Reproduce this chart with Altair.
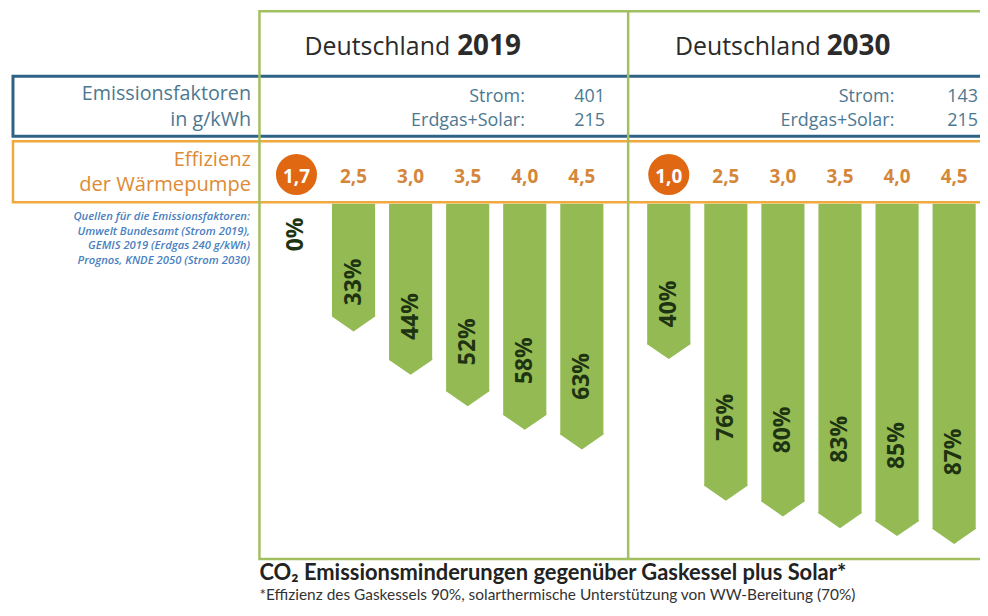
import altair as alt
import pandas as pd

# ---------------- data ----------------
years = ["2019", "2030"]
region = "Deutschland"
strom_label = "Strom:"
gas_label = "Erdgas+Solar:"
strom = [401, 143]
erdgas_solar = [215, 215]
eff_2019 = ["1,7", "2,5", "3,0", "3,5", "4,0", "4,5"]
red_2019 = [0, 33, 44, 52, 58, 63]
eff_2030 = ["1,0", "2,5", "3,0", "3,5", "4,0", "4,5"]
red_2030 = [40, 76, 80, 83, 85, 87]
left_emis = ["Emissionsfaktoren", "in g/kWh"]
left_eff = ["Effizienz", "der Wärmepumpe"]
sources = [
    "Quellen für die Emissionsfaktoren:",
    "Umwelt Bundesamt (Strom 2019),",
    "GEMIS 2019 (Erdgas 240 g/kWh)",
    "Prognos, KNDE 2050 (Strom 2030)",
]
title = "CO₂ Emissionsminderungen gegenüber Gaskessel plus Solar*"
subtitle = "*Effizienz des Gaskessels 90%, solarthermische Unterstützung von WW-Bereitung (70%)"

# ---------------- layout / style ----------------
W, H = 976, 600
def X(r):
    return r - 8
def Y(r):
    return r - 8

GREEN_BAR = "#93BA53"
PCT_TXT = "#1E3311"
FRAME = "#A2C062"
BLUE = "#2F6386"
ORANGE_LINE = "#EFA93C"
BLUE_TXT = "#4C7891"
ORANGE_TXT = "#DD8B35"
EFF_TXT = "#D4873A"
CIRCLE = "#E06812"
SRC_TXT = "#4A7FBF"
HEAD_TXT = "#2B2B2B"
FONT = "Open Sans"

rows = []
for year, effs, reds in [(years[0], eff_2019, red_2019), (years[1], eff_2030, red_2030)]:
    for i, (e, r) in enumerate(zip(effs, reds)):
        rows.append({"year": year, "idx": i, "eff": e, "red": r})
df = pd.DataFrame(rows)
one = pd.DataFrame({"k": [0]})

xs = alt.Scale(domain=[-4.967, 11.889], nice=False, zero=False)
ys = alt.Scale(domain=[-48.937, 102.96], nice=False, zero=False, reverse=True)
xenc = alt.X("slot:Q", scale=xs, axis=None)

base = alt.Chart(df).transform_calculate(
    slot="datum.idx + (datum.year == '2030' ? 6.523 : 0)",
    rect_end="datum.red - 3.8",
    y0="0.5",
    lab_y="datum.red > 0 ? 0.8 * datum.red - 6 : 8.3",
    label="datum.red + '%'",
)

bars = base.transform_filter("datum.red > 0").mark_bar(size=43.3, color=GREEN_BAR).encode(
    x=xenc,
    y=alt.Y("y0:Q", scale=ys, axis=None),
    y2="rect_end:Q",
)
CHEVRON = "M-1,-0.06L1,-0.06L1,0L0,0.69L-1,0Z"
tips = base.transform_filter("datum.red > 0").mark_point(
    shape=CHEVRON, size=43.3 ** 2, filled=True, opacity=1, color=GREEN_BAR, strokeWidth=0
).encode(x=xenc, y=alt.Y("rect_end:Q", scale=ys, axis=None))

pct = base.mark_text(
    angle=270, font=FONT, fontSize=23, fontWeight="bold", color=PCT_TXT,
    align="center", baseline="middle",
).encode(x=xenc, y=alt.Y("lab_y:Q", scale=ys, axis=None), text="label:N")

circle = base.transform_filter("datum.idx == 0").mark_point(
    shape="circle", size=1700, filled=True, opacity=1, color=CIRCLE, strokeWidth=0
).encode(x=xenc, y=alt.value(Y(174)))

eff = base.mark_text(
    font=FONT, fontSize=19, fontWeight="bold", align="center", baseline="alphabetic"
).encode(
    x=xenc,
    y=alt.value(Y(182.5)),
    text="eff:N",
    color=alt.condition("datum.idx == 0", alt.value("white"), alt.value(EFF_TXT)),
)

def box(x1, x2, y1, y2, color, sw):
    return alt.Chart(one).mark_rect(filled=False, stroke=color, strokeWidth=sw).encode(
        x=alt.value(X(x1)), x2=alt.value(X(x2)), y=alt.value(Y(y1)), y2=alt.value(Y(y2))
    )

blue_box = box(13, 1030, 75.3, 135.5, BLUE, 3)
orange_box = box(13, 1030, 140.5, 201.8, ORANGE_LINE, 2.5)
frame = box(260.5, 1030, 10, 560, FRAME, 2.5)
mid = alt.Chart(one).mark_rule(color=FRAME, strokeWidth=2.5).encode(
    x=alt.value(X(630.7)), y=alt.value(Y(10)), y2=alt.value(Y(560))
)

def txt(s, x, y, size, color, align="left", weight="normal", style="normal", font=FONT):
    return alt.Chart(one).mark_text(
        text=s, align=align, baseline="alphabetic", fontSize=size, fontWeight=weight,
        fontStyle=style, font=font, color=color,
    ).encode(x=alt.value(X(x)), y=alt.value(Y(y)))

texts = []
texts.append(txt(left_emis[0], 252, 99.5, 19.8, BLUE_TXT, align="right"))
texts.append(txt(left_emis[1], 252, 125, 19.8, BLUE_TXT, align="right"))
texts.append(txt(left_eff[0], 252, 165, 20.2, ORANGE_TXT, align="right"))
texts.append(txt(left_eff[1], 252, 190.5, 20.2, ORANGE_TXT, align="right"))
for i, s in enumerate(sources):
    texts.append(txt(s, 251, 220 + i * 14.5, 11.3, SRC_TXT, align="right", weight=600, style="italic"))

panel_x = {
    "head_r": [452, 824], "year_l": [459, 830],
    "lab_r": [527, 898], "val_r": [607.5, 982],
}
for i, yr in enumerate(years):
    texts.append(txt(region, panel_x["head_r"][i], 54, 25, HEAD_TXT, align="right"))
    texts.append(txt(yr, panel_x["year_l"][i], 54, 28, HEAD_TXT, align="left", weight="bold"))
    texts.append(txt(strom_label, panel_x["lab_r"][i], 101, 18, BLUE_TXT, align="right"))
    texts.append(txt(gas_label, panel_x["lab_r"][i], 125, 18, BLUE_TXT, align="right"))
    texts.append(txt(str(strom[i]), panel_x["val_r"][i], 101, 18, BLUE_TXT, align="right"))
    texts.append(txt(str(erdgas_solar[i]), panel_x["val_r"][i], 125, 18, BLUE_TXT, align="right"))

texts.append(txt(title, 260.5, 581.5, 22, "#222222", weight="bold", font="Lato"))
texts.append(txt(subtitle, 260.5, 601, 15.5, "#333333", font="Lato"))

chart = alt.layer(
    bars, tips, pct, blue_box, orange_box, frame, mid, circle, eff, *texts
).properties(
    width=W, height=H, padding=0, autosize=alt.AutoSizeParams(type="none"),
    background="white",
).configure_view(stroke=None)

chart.save("out.html", embed_options={"renderer": "svg", "actions": False})
